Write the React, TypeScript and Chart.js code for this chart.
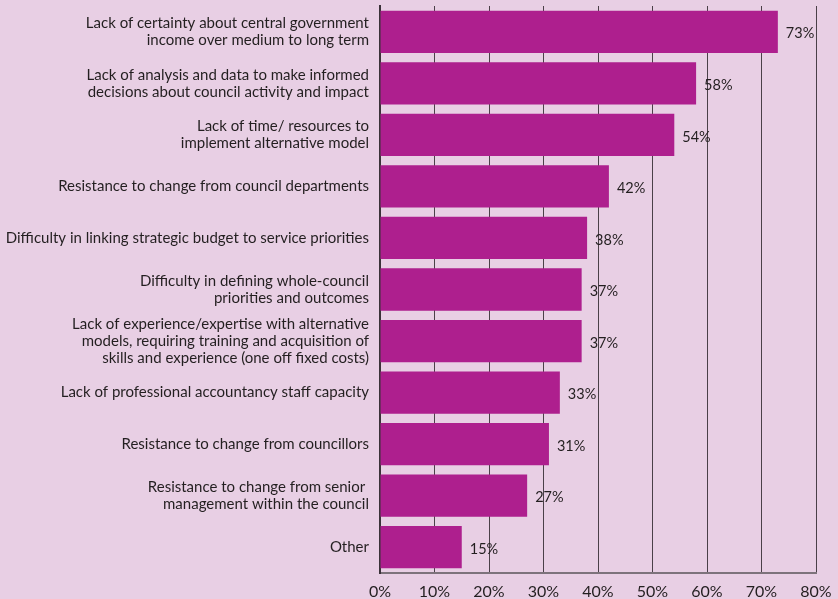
import React, { useEffect, useRef } from "react";
import { Chart, registerables } from "chart.js";

Chart.register(...registerables);

const categories: (string | string[])[] = [
  ["Lack of certainty about central government", "income over medium to long term"],
  ["Lack of analysis and data to make informed", "decisions about council activity and impact"],
  ["Lack of time/ resources to", "implement alternative model"],
  "Resistance to change from council departments",
  "Difficulty in linking strategic budget to service priorities",
  ["Difficulty in defining whole-council", "priorities and outcomes"],
  ["Lack of experience/expertise with alternative", "models, requiring training and acquisition of", "skills and experience (one off fixed costs)"],
  "Lack of professional accountancy staff capacity",
  "Resistance to change from councillors",
  ["Resistance to change from senior ", "management within the council"],
  "Other",
];
const values: number[] = [73, 58, 54, 42, 38, 37, 37, 33, 31, 27, 15];
const tickValues: number[] = [0, 10, 20, 30, 40, 50, 60, 70, 80];

const FONT = "Lato, 'Noto Sans', sans-serif";

const labelPlugin = {
  id: "valueLabels",
  afterDatasetsDraw(chart: any) {
    const ctx = chart.ctx;
    const meta = chart.getDatasetMeta(0);
    ctx.save();
    ctx.font = `14.5px ${FONT}`;
    ctx.fillStyle = "#231f20";
    ctx.textAlign = "left";
    ctx.textBaseline = "middle";
    meta.data.forEach((bar: any, i: number) => {
      ctx.fillText(values[i] + "%", bar.x + 8, bar.y + 2);
    });
    ctx.restore();
  },
};

export default function App() {
  const ref = useRef<HTMLCanvasElement>(null);
  useEffect(() => {
    document.body.style.margin = "0";
    const chart = new Chart(ref.current!, {
      type: "bar",
      data: {
        labels: categories,
        datasets: [
          {
            data: values,
            backgroundColor: "#ae1f8e",
            barPercentage: 0.82,
            categoryPercentage: 1,
          },
        ],
      },
      options: {
        indexAxis: "y",
        animation: false,
        responsive: false,
        layout: { padding: { top: 6, right: 22, bottom: 0, left: 0 } },
        plugins: { legend: { display: false }, tooltip: { enabled: false } },
        scales: {
          x: {
            min: 0,
            max: 80,
            afterBuildTicks: (scale: any) => {
              scale.ticks = tickValues.map((v) => ({ value: v }));
            },
            afterFit: (scale: any) => {
              scale.height = 26;
              scale.paddingLeft = 0;
              scale.paddingRight = 0;
            },
            grid: { color: "#4a4048", lineWidth: 1, drawTicks: false },
            border: { display: true, color: "#7d737b", width: 2 },
            ticks: {
              padding: 9,
              color: "#231f20",
              font: { family: FONT, size: 16 },
              callback: (v: any) => v + "%",
            },
          },
          y: {
            afterFit: (scale: any) => {
              scale.width = 380;
              scale.paddingTop = 0;
              scale.paddingBottom = 0;
            },
            grid: { display: false, drawTicks: false },
            border: { display: true, color: "#3a3238", width: 2 },
            ticks: {
              padding: 11,
              color: "#231f20",
              font: { family: FONT, size: 15, lineHeight: "17px" },
              autoSkip: false,
            },
          },
        },
      },
      plugins: [labelPlugin],
    });
    return () => chart.destroy();
  }, []);
  return (
    <div style={{ width: 838, height: 599, background: "#e8cfe4" }}>
      <canvas ref={ref} width={838} height={599} />
    </div>
  );
}
